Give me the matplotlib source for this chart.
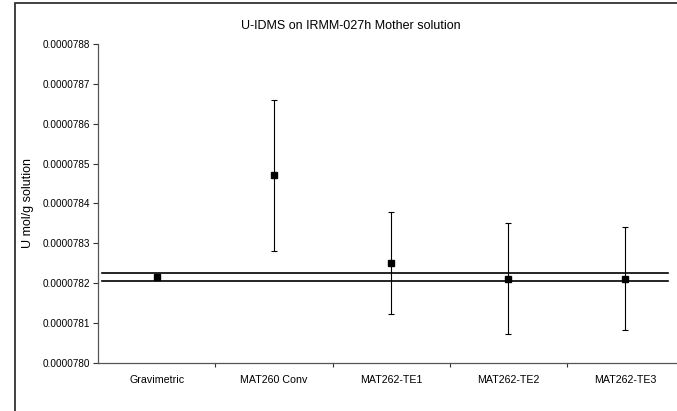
import matplotlib.pyplot as plt
from matplotlib.patches import Rectangle
from matplotlib.ticker import FormatStrFormatter, FixedLocator

plt.rcParams['font.family'] = ['Liberation Sans', 'DejaVu Sans']

# data
methods = ["Gravimetric", "MAT260 Conv", "MAT262-TE1", "MAT262-TE2", "MAT262-TE3"]
u_values = [7.8216e-5, 7.8470e-5, 7.8250e-5, 7.8211e-5, 7.8211e-5]
u_errors = [0.010e-7, 1.90e-7, 1.29e-7, 1.40e-7, 1.29e-7]

# gravimetric band
band_x = [-0.47, 4.36]
band_upper = [7.8226e-5, 7.8226e-5]
band_lower = [7.8205e-5, 7.8205e-5]

W, H = 677, 411
fig = plt.figure(figsize=(W / 100, H / 100), dpi=100)

# chart area frame (cut off at right and bottom)
fig.patches.append(Rectangle((15 / W, -0.2), 1.2, 1.2 - 3.5 / H,
                             transform=fig.transFigure, fill=False,
                             edgecolor='#333333', linewidth=1.3))

ax = fig.add_axes([98.3 / W, (H - 362.7) / H, (684 - 98.3) / W, (362.7 - 44) / H])

x = list(range(len(methods)))
ax.plot(band_x, band_upper, color='black', lw=1.2)
ax.plot(band_x, band_lower, color='black', lw=1.2)
ax.errorbar(x, u_values, yerr=u_errors, fmt='s', color='black', ms=3.8,
            ecolor='black', elinewidth=0.8, capsize=2, capthick=0.8)

ax.set_xlim(-0.5, 4.5)
ax.set_ylim(7.80e-5, 7.88e-5)
ax.set_yticks([7.80e-5 + i * 1e-7 for i in range(9)])
ax.yaxis.set_major_formatter(FormatStrFormatter('%.7f'))

ax.xaxis.set_major_locator(FixedLocator([0.5, 1.5, 2.5, 3.5]))
ax.set_xticklabels([])
ax.xaxis.set_minor_locator(FixedLocator(x))
ax.set_xticklabels(methods, minor=True)
ax.tick_params(axis='x', which='minor', length=0, pad=8.5, labelsize=7.7)
ax.tick_params(axis='x', which='major', length=3, width=0.8, color='#333333')
ax.tick_params(axis='y', length=3.6, width=0.8, color='#333333', pad=2.5, labelsize=7.2)

for s in ['top', 'right']:
    ax.spines[s].set_visible(False)
for s in ['left', 'bottom']:
    ax.spines[s].set_color('#555555')
    ax.spines[s].set_linewidth(0.9)

fig.text(351 / W, 1 - 25.7 / H, "U-IDMS on IRMM-027h Mother solution",
         ha='center', va='center', fontsize=9)
fig.text(28.3 / W, 1 - 203.4 / H, "U mol/g solution", rotation=90,
         ha='center', va='center', fontsize=9)

fig.savefig("out.png", dpi=100)
